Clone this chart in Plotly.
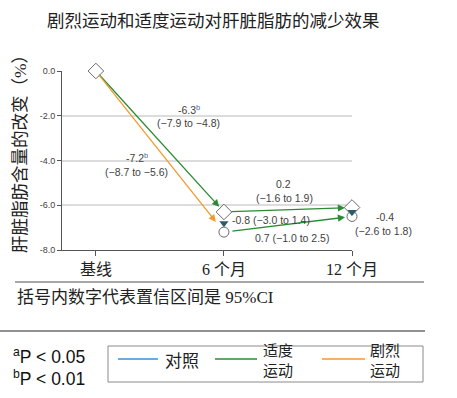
import plotly.graph_objects as go

# ---------------- data ----------------
categories = ["基线", "6 个月", "12 个月"]
cat_pos = [0, 1, 2]
moderate = [0.0, -6.3, -6.1]      # 适度运动 (diamond)
vigorous = [0.0, -7.2, -6.5]      # 剧烈运动 (circle)
control = [None, -6.8, -6.3]      # 对照 (triangle)
y_ticks = [0.0, -2.0, -4.0, -6.0, -8.0]
y_ticklabels = ["0.0", "-2.0", "-4.0", "-6.0", "-8.0"]

legend_names = ["对照", "适度<br>运动", "剧烈<br>运动"]
colors = {"control": "#3b8fd4", "moderate": "#2a8b34", "vigorous": "#f29a2e"}

# ---------------- layout helpers (pixel -> paper) ----------------
W, H = 457, 398
L, R, T, B = 62, 105, 71, 148
PW, PH = W - L - R, H - T - B


def px(x):
    return (x - L) / PW


def py(y):
    return (H - B - y) / PH


fig = go.Figure()

# markers
fig.add_trace(go.Scatter(x=cat_pos[1:], y=vigorous[1:], mode="markers",
                         marker=dict(symbol="circle", size=10, color="white",
                                     line=dict(color="#6b6b6b", width=1)),
                         showlegend=False, cliponaxis=False, hoverinfo="skip"))
fig.add_trace(go.Scatter(x=cat_pos, y=moderate, mode="markers",
                         marker=dict(symbol="diamond", size=12, color="white",
                                     line=dict(color="#6b6b6b", width=1)),
                         showlegend=False, cliponaxis=False, hoverinfo="skip"))
fig.add_trace(go.Scatter(x=cat_pos, y=control, mode="markers",
                         marker=dict(symbol="triangle-down", size=8, color="#2c5c68",
                                     line=dict(width=0)),
                         showlegend=False, cliponaxis=False, hoverinfo="skip"))

# arrows (data coordinates)
arrows = [
    (0, moderate[0], 1, moderate[1], colors["moderate"], 7, 3),
    (0, vigorous[0], 1, vigorous[1], colors["vigorous"], 13, 3),
    (1, moderate[1], 2, moderate[2], colors["moderate"], 7, 6),
    (1, vigorous[1], 2, vigorous[2], colors["moderate"], 7, 7),
]
for x0, y0, x1, y1, c, so, sso in arrows:
    fig.add_annotation(x=x1, y=y1, ax=x0, ay=y0, xref="x", yref="y", axref="x", ayref="y",
                       text="", showarrow=True, arrowhead=2, arrowsize=1.1, arrowwidth=1.3,
                       arrowcolor=c, standoff=so, startstandoff=sso)

txt_font = dict(family="Liberation Sans, Arial, sans-serif", size=10.5, color="#3f3f3f")
sup = "<sup><span style='color:#4a6aa8'>b</span></sup>"
labels = [
    ("-6.3" + sup, 189, 109),
    ("(−7.9 to −4.8)", 188, 123),
    ("-7.2" + sup, 137, 157),
    ("(−8.7 to −5.6)", 136, 172),
    ("0.2", 283, 184),
    ("(−1.6 to 1.9)", 284, 198),
    ("-0.8 (−3.0 to 1.4)", 271, 220),
    ("0.7 (−1.0 to 2.5)", 292, 238),
    ("-0.4", 385, 217),
    ("(−2.6 to 1.8)", 383, 231),
]
for t, x, y in labels:
    fig.add_annotation(x=px(x), y=py(y), xref="paper", yref="paper", text=t,
                       showarrow=False, font=txt_font, xanchor="center", yanchor="middle")

cjk = "Noto Sans CJK SC"
serif_cjk = "Liberation Serif, Noto Sans CJK SC"

# title
fig.add_annotation(x=px(213), y=py(20), xref="paper", yref="paper",
                   text="剧烈运动和适度运动对肝脏脂肪的减少效果", showarrow=False,
                   font=dict(family=cjk, size=17.5, color="#222222"),
                   xanchor="center", yanchor="middle")
# y-axis title
fig.add_annotation(x=px(20), y=py(150), xref="paper", yref="paper",
                   text="肝脏脂肪含量的改变（%）", showarrow=False, textangle=-90,
                   font=dict(family=serif_cjk, size=17.5, color="#222222"),
                   xanchor="center", yanchor="middle")

# footnote
fig.add_shape(type="line", xref="paper", yref="paper", x0=px(15), x1=px(424),
              y0=py(282), y1=py(282), line=dict(color="#8a8a8a", width=1.5))
fig.add_annotation(x=px(15), y=py(297), xref="paper", yref="paper",
                   text="括号内数字代表置信区间是 95%CI", showarrow=False,
                   font=dict(family=serif_cjk, size=17, color="#222222"),
                   xanchor="left", yanchor="middle")
fig.add_shape(type="line", xref="paper", yref="paper", x0=px(0), x1=px(425),
              y0=py(331), y1=py(331), line=dict(color="#222222", width=1.2))

pfont = dict(family="Liberation Sans, Arial, sans-serif", size=17.5, color="#111111")
fig.add_annotation(x=px(11), y=py(356), xref="paper", yref="paper",
                   text="<sup>a</sup>P < 0.05", showarrow=False, font=pfont,
                   xanchor="left", yanchor="middle")
fig.add_annotation(x=px(11), y=py(378), xref="paper", yref="paper",
                   text="<sup>b</sup>P < 0.01", showarrow=False, font=pfont,
                   xanchor="left", yanchor="middle")

# legend box
fig.add_shape(type="rect", xref="paper", yref="paper", x0=px(108), x1=px(423),
              y0=py(346), y1=py(382), line=dict(color="#8a8a8a", width=1), fillcolor="white")
leg_items = [(118, 158, 163, colors["control"], legend_names[0]),
             (215, 257, 261, colors["moderate"], legend_names[1]),
             (322, 365, 368, colors["vigorous"], legend_names[2])]
for x0, x1, xt, c, name in leg_items:
    fig.add_shape(type="line", xref="paper", yref="paper", x0=px(x0), x1=px(x1),
                  y0=py(359), y1=py(359), line=dict(color=c, width=1.3))
    fig.add_annotation(x=px(xt), y=py(359), xref="paper", yref="paper", text=name,
                       showarrow=False, xanchor="left", yanchor="middle",
                       font=dict(family=cjk, size=15 if "<br>" in name else 17, color="#222222"))

fig.update_layout(
    width=W, height=H,
    margin=dict(l=L, r=R, t=T, b=B, pad=0),
    paper_bgcolor="white", plot_bgcolor="white",
    showlegend=False,
    xaxis=dict(range=[-34 / 128.5, 2.0], tickmode="array", tickvals=cat_pos,
               ticktext=categories, showgrid=False, zeroline=False,
               showline=True, linecolor="#555555", linewidth=1,
               ticks="outside", ticklen=5, tickcolor="#555555",
               tickfont=dict(family=serif_cjk, size=16, color="#222222")),
    yaxis=dict(range=[-8, 0], tickmode="array", tickvals=y_ticks, ticktext=y_ticklabels,
               showgrid=True, gridcolor="#dcdcdc", gridwidth=1.5, zeroline=False,
               showline=True, linecolor="#555555", linewidth=1,
               ticks="outside", ticklen=4, tickcolor="#555555",
               tickfont=dict(family="Liberation Sans, Arial, sans-serif", size=9,
                             color="#4a4040")),
)

fig.write_html("out.html", config={"displayModeBar": False},
               post_script="document.body.style.margin='0';document.body.style.overflow='hidden';")
